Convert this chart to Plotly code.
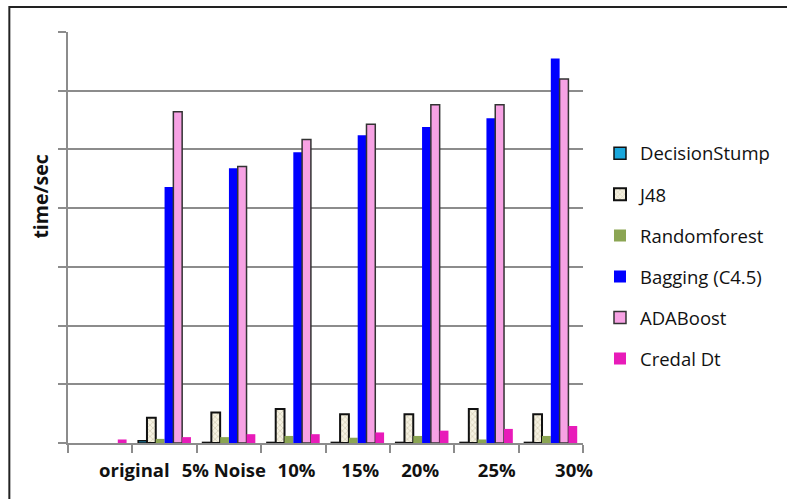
import plotly.graph_objects as go

# group slots: slot 0 holds only the stray Credal Dt bar, slots 1..7 the labelled groups
slots = [0, 1, 2, 3, 4, 5, 6, 7]
labels = ["original", "5% Noise", "10%", "15%", "20%", "25%", "30%"]
label_pos = [1.03, 2.42, 3.55, 4.54, 5.47, 6.66, 7.86]

decision_stump = [None, 0.04, 0.01, 0.01, 0.01, 0.01, 0.01, 0.01]
j48 = [None, 0.43, 0.52, 0.58, 0.49, 0.49, 0.58, 0.49]
random_forest = [None, 0.07, 0.10, 0.12, 0.09, 0.12, 0.06, 0.12]
bagging = [None, 4.36, 4.68, 4.95, 5.24, 5.38, 5.53, 6.55]
adaboost = [None, 5.64, 4.71, 5.17, 5.43, 5.76, 5.76, 6.20]
credal_dt = [0.06, 0.10, 0.15, 0.15, 0.18, 0.21, 0.24, 0.29]

x = [s + 0.5 for s in slots]
FONT = "Open Sans"

fig = go.Figure()
fig.add_trace(go.Bar(name="DecisionStump", x=x, y=decision_stump, legendgroup="a",
                     marker=dict(color="#1aa7dc", line=dict(color="#111111", width=1.5))))
fig.add_trace(go.Bar(name="J48", x=x, y=j48, legendgroup="b",
                     marker=dict(color="#f3eedb", line=dict(color="#111111", width=2),
                                 pattern=dict(shape="x", fgcolor="#a9a27f", bgcolor="#f6f2e2",
                                              size=4, solidity=0.3))))
fig.add_trace(go.Bar(name="Randomforest", x=x, y=random_forest, legendgroup="c",
                     marker=dict(color="#8ba553", line=dict(width=0))))
fig.add_trace(go.Bar(name="Bagging (C4.5)", x=x, y=bagging, legendgroup="d",
                     marker=dict(color="#0000ff", line=dict(width=0))))
fig.add_trace(go.Bar(name="ADABoost", x=x, y=adaboost, legendgroup="e",
                     marker=dict(color="#f7a2e4", line=dict(color="#333333", width=1.5))))
fig.add_trace(go.Bar(name="Credal Dt", x=x, y=credal_dt, legendgroup="f",
                     marker=dict(color="#e81bb9", line=dict(width=0))))

# invisible trace to activate the label axis
fig.add_trace(go.Scatter(x=[label_pos[0]], y=[0], xaxis="x2", mode="markers",
                         marker=dict(opacity=0), showlegend=False, hoverinfo="skip"))

fig.update_layout(
    width=787, height=499,
    margin=dict(l=68, r=201, t=32, b=56),
    paper_bgcolor="white", plot_bgcolor="white",
    barmode="group", bargap=0.18, bargroupgap=0,
    font=dict(family=FONT, color="#111111"),
    showlegend=True,
    legend=dict(x=1.033, xanchor="left", y=0.75, yanchor="top",
                font=dict(family=FONT, size=18.5, color="#111111"),
                tracegroupgap=14, itemwidth=30, bgcolor="rgba(0,0,0,0)"),
    xaxis=dict(range=[0, 8], tickvals=slots + [8], showticklabels=False,
               ticks="outside", ticklen=8, tickcolor="#8c8c8c", tickwidth=1.5,
               showgrid=False, zeroline=False,
               showline=True, linecolor="#8c8c8c", linewidth=1.5),
    xaxis2=dict(range=[0, 8], overlaying="x", side="bottom", anchor="y",
                tickvals=label_pos, ticktext=labels,
                ticks="outside", ticklen=11, tickcolor="rgba(0,0,0,0)",
                showgrid=False, zeroline=False, showline=False,
                tickfont=dict(family=FONT, size=18.5, color="#111111", weight="bold")),
    yaxis=dict(range=[0, 7], dtick=1, showticklabels=False,
               ticks="outside", ticklen=8, tickcolor="#8c8c8c", tickwidth=1.5,
               showgrid=True, gridcolor="#8c8c8c", gridwidth=1.5,
               zeroline=False, showline=True, linecolor="#8c8c8c", linewidth=1.5),
    annotations=[dict(text="<b>time/sec</b>", xref="paper", yref="paper",
                      x=-0.054, y=0.60, xanchor="center", yanchor="middle",
                      textangle=-90, showarrow=False,
                      font=dict(family=FONT, size=19.5, color="#111111"))],
    shapes=[dict(type="rect", xref="paper", yref="paper",
                 x0=-0.1139, x1=1.6, y0=-0.3, y1=1.0608,
                 line=dict(color="#222222", width=2), layer="below")],
)

fig.write_html("out.html")
